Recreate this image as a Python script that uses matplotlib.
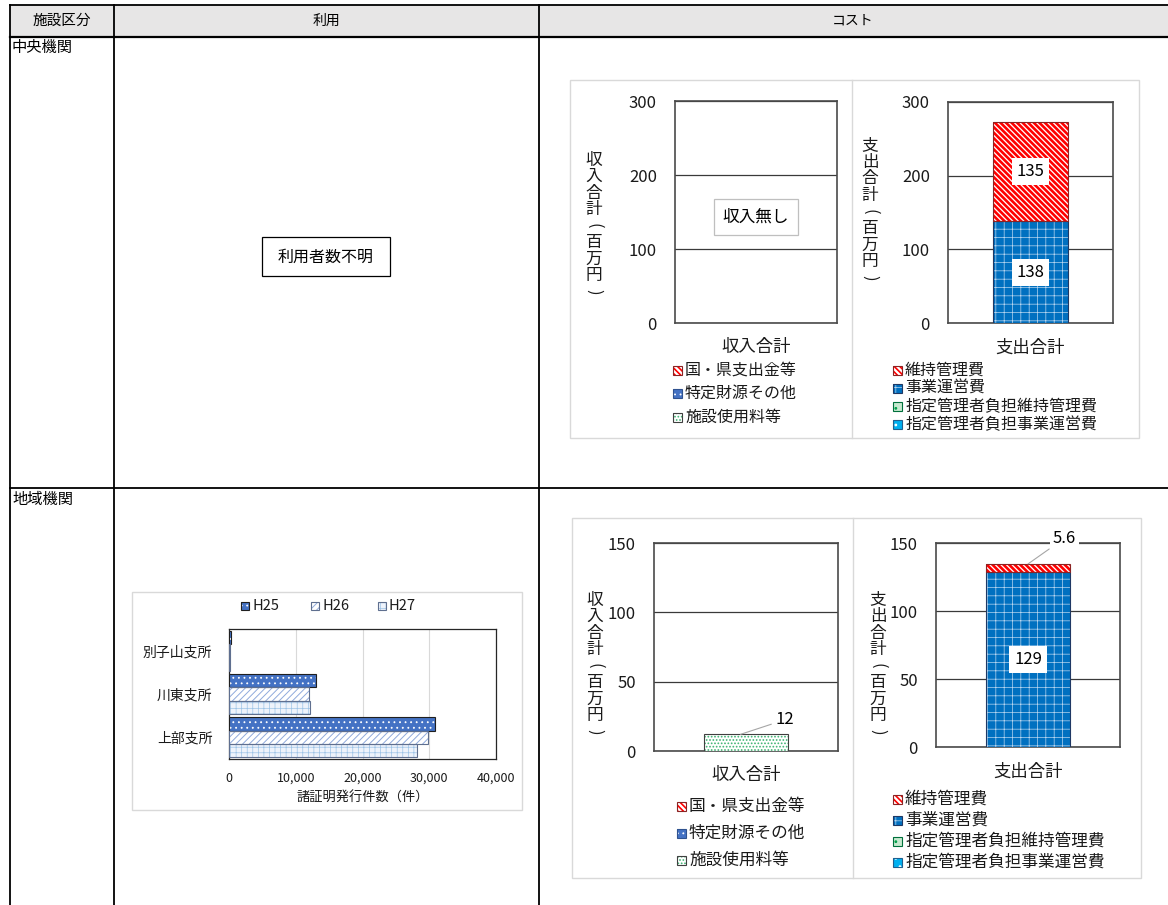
import matplotlib
matplotlib.use('Agg')
import matplotlib.pyplot as plt
from matplotlib.patches import Rectangle

plt.rcParams['font.family'] = ['Noto Sans CJK JP', 'DejaVu Sans']
plt.rcParams['hatch.linewidth'] = 0.8

# ---------------- data ----------------
header_labels = ['施設区分', '利用', 'コスト']
row_labels = ['中央機関', '地域機関']
no_usage_text = '利用者数不明'
no_income_text = '収入無し'

income_labels = ['国・県支出金等', '特定財源その他', '施設使用料等']
expense_labels = ['維持管理費', '事業運営費', '指定管理者負担維持管理費', '指定管理者負担事業運営費']

central_income = [0, 0, 0]
central_expense = [135, 138, 0, 0]
regional_income = [0, 0, 12]
regional_expense = [5.6, 129, 0, 0]

income_cat = '収入合計'
expense_cat = '支出合計'
income_ylabel = '収入合計(百万円)'
expense_ylabel = '支出合計(百万円)'

branches = ['上部支所', '川東支所', '別子山支所']
years = ['H25', 'H26', 'H27']
h25 = [30900, 13100, 250]
h26 = [29800, 12000, 220]
h27 = [28200, 12100, 200]
usage_xlabel = '諸証明発行件数（件）'
usage_ticks = [0, 10000, 20000, 30000, 40000]

# ---------------- styles ----------------
RED = dict(face='white', hatch='\\\\\\\\\\\\', hc='#ff0000', edge='#8b2323', hlw=1.9)
STY = {
    '国・県支出金等': RED,
    '維持管理費': RED,
    '特定財源その他': dict(face='#4472c4', hatch='...', hc='white', edge='#2f528f', hlw=0.6),
    '事業運営費': dict(face='#0070c0', hatch='++', hc='#b9d6f0', edge='#1f3864', hlw=0.5),
    '施設使用料等': dict(face='#ffffff', hatch='.....', hc='#3cb371', edge='#404040', hlw=0.8),
    '指定管理者負担維持管理費': dict(face='#c6e9cf', hatch='..', hc='#00a04a', edge='#00703c', hlw=0.8),
    '指定管理者負担事業運営費': dict(face='#00b0f0', hatch='..', hc='white', edge='#1f5f8f', hlw=0.8),
    'H25': dict(face='#4472c4', hatch='...', hc='white', edge='#1f1f1f', hlw=0.6),
    'H26': dict(face='white', hatch='/////', hc='#8faadc', edge='#5f6f8f', hlw=0.7),
    'H27': dict(face='#eef3fb', hatch='+++', hc='#9dc3e6', edge='#5f6f8f', hlw=0.5),
}

W, H = 1168, 905
fig = plt.figure(figsize=(W / 100, H / 100), dpi=100)
fig.patch.set_facecolor('white')

ax0 = fig.add_axes([0, 0, 1, 1])
ax0.set_xlim(0, W)
ax0.set_ylim(H, 0)
ax0.axis('off')


def fig_axes(x0, y0, x1, y1):
    return fig.add_axes([x0 / W, 1 - y1 / H, (x1 - x0) / W, (y1 - y0) / H])


def set_hlw(patches, lw):
    for p in patches:
        if hasattr(p, 'set_hatch_linewidth'):
            p.set_hatch_linewidth(lw)


def styled_bar(ax, pos, val, base, size, sty, horizontal=False):
    with plt.rc_context({'hatch.linewidth': sty['hlw']}):
        if horizontal:
            b = ax.barh(pos, val, height=size, left=base, color=sty['face'],
                        hatch=sty['hatch'], edgecolor=sty['hc'], linewidth=0, zorder=3)
        else:
            b = ax.bar(pos, val, width=size, bottom=base, color=sty['face'],
                       hatch=sty['hatch'], edgecolor=sty['hc'], linewidth=0, zorder=3)
    set_hlw(b, sty['hlw'])
    if horizontal:
        ax.barh(pos, val, height=size, left=base, fill=False,
                edgecolor=sty['edge'], linewidth=0.8, zorder=4)
    else:
        ax.bar(pos, val, width=size, bottom=base, fill=False,
               edgecolor=sty['edge'], linewidth=0.8, zorder=4)


def key(x, y, label, fs=10.5, size=9):
    sty = STY[label]
    with plt.rc_context({'hatch.linewidth': min(sty['hlw'], 1.2)}):
        r = Rectangle((x, y - size / 2), size, size, facecolor=sty['face'],
                      hatch=sty['hatch'], edgecolor=sty['hc'], linewidth=0)
    set_hlw([r], min(sty['hlw'], 1.2))
    ax0.add_patch(r)
    ax0.add_patch(Rectangle((x, y - size / 2), size, size, fill=False,
                            edgecolor=sty['edge'], linewidth=0.8))
    ax0.text(x + size + 3, y, label, fontsize=fs, va='center', ha='left', color='#1a1a1a')


def vlabel(x, yc, text, fs=12, step=16.5):
    n = len(text)
    y0 = yc - step * (n - 1) / 2
    for i, ch in enumerate(text):
        rot = 270 if ch in '()' else 0
        ax0.text(x, y0 + i * step, ch, fontsize=fs, ha='center', va='center',
                 rotation=rot, rotation_mode='anchor', color='#1a1a1a')


# ---------------- table ----------------
ax0.add_patch(Rectangle((10, 5), W - 10, 32, facecolor='#e7e6e6', edgecolor='none'))
for yy, lw in [(5, 1.3), (37, 1.6), (488, 1.3)]:
    ax0.plot([10, W], [yy, yy], color='black', lw=lw)
for xx in [10, 114, 539]:
    ax0.plot([xx, xx], [5, H], color='black', lw=1.3)
ax0.text(62, 21, header_labels[0], fontsize=10.5, ha='center', va='center')
ax0.text(326, 21, header_labels[1], fontsize=10, ha='center', va='center')
ax0.text(853, 21, header_labels[2], fontsize=10, ha='center', va='center')
ax0.text(12, 47, row_labels[0], fontsize=11, ha='left', va='center')
ax0.text(12, 499, row_labels[1], fontsize=11, ha='left', va='center')

# "利用者数不明" box
ax0.add_patch(Rectangle((262, 237), 128, 39, facecolor='white', edgecolor='black', lw=0.9))
ax0.text(326, 257, no_usage_text, fontsize=11.5, ha='center', va='center')

# chart containers
for (x0, y0, x1, y1, xd) in [(570, 80, 1139, 438, 852), (572, 518, 1141, 878, 853)]:
    ax0.add_patch(Rectangle((x0, y0), x1 - x0, y1 - y0, fill=False, edgecolor='#d9d9d9', lw=1))
    ax0.plot([xd, xd], [y0, y1], color='#d9d9d9', lw=1)
ax0.add_patch(Rectangle((132, 592), 390, 218, fill=False, edgecolor='#d9d9d9', lw=1))


# ---------------- cost charts ----------------
def cost_chart(rect, labels, values, order, ymax, step, cat, width):
    ax = fig_axes(*rect)
    base = 0
    for idx in order:
        v = values[idx]
        if v > 0:
            styled_bar(ax, 0, v, base, width, STY[labels[idx]])
        base += v
    ax.set_xlim(-0.5, 0.5)
    ax.set_ylim(0, ymax)
    ax.set_yticks(range(0, ymax + 1, step))
    ax.set_xticks([0])
    ax.set_xticklabels([cat])
    ax.tick_params(axis='x', length=0, pad=11, labelsize=12.5, labelcolor='#1a1a1a')
    ax.tick_params(axis='y', length=0, pad=13, labelsize=12, labelcolor='#1a1a1a')
    ax.grid(axis='y', color='#3a3a3a', lw=0.9, zorder=1)
    ax.set_axisbelow(True)
    for s in ax.spines.values():
        s.set_color('#4a4a4a')
        s.set_linewidth(1.2)
    return ax


def center_labels(ax, values, order):
    base = 0
    for idx in order:
        v = values[idx]
        if v > 0:
            ax.text(0, base + v / 2, f'{v:g}', fontsize=12, ha='center', va='center', zorder=6,
                    bbox=dict(boxstyle='square,pad=0.3', fc='white', ec='none'))
        base += v


inc_order = [2, 1, 0]
exp_order = [3, 2, 1, 0]

# row 1
a1 = cost_chart((675, 101, 837, 323), income_labels, central_income, inc_order, 300, 100, income_cat, 0.45)
a1.text(0.5, 0.477, no_income_text, transform=a1.transAxes, fontsize=12, ha='center', va='center',
        zorder=6, bbox=dict(boxstyle='square,pad=0.55', fc='white', ec='#bfbfbf', lw=0.9))
a2 = cost_chart((948, 102, 1113, 323), expense_labels, central_expense, exp_order, 300, 100, expense_cat, 0.45)
center_labels(a2, central_expense, exp_order)

# row 2
a3 = cost_chart((654, 543, 838, 751), income_labels, regional_income, inc_order, 150, 50, income_cat, 0.456)
a3.annotate(f'{regional_income[2]:g}', xy=(-0.03, regional_income[2]), xytext=(0.16, 22.5),
            fontsize=12, ha='left', va='center', zorder=6,
            arrowprops=dict(arrowstyle='-', color='#a6a6a6', lw=0.8, shrinkA=1, shrinkB=0))
a4 = cost_chart((936, 543, 1120, 747), expense_labels, regional_expense, exp_order, 150, 50, expense_cat, 0.46)
a4.annotate(f'{regional_expense[0]:g}', xy=(0.0, regional_expense[0] + regional_expense[1]),
            xytext=(0.135, 153.5), fontsize=12, ha='left', va='center', zorder=6, annotation_clip=False,
            bbox=dict(boxstyle='square,pad=0.15', fc='white', ec='none'),
            arrowprops=dict(arrowstyle='-', color='#a6a6a6', lw=0.8, shrinkA=1, shrinkB=0))
center_labels(a4, [0, regional_expense[1], 0, 0], exp_order)

# y labels
vlabel(594, 226, income_ylabel)
vlabel(870, 212, expense_ylabel)
vlabel(595, 666, income_ylabel)
vlabel(878, 666, expense_ylabel)

# legends
for i, lab in enumerate(income_labels):
    key(673, 370 + i * 23.5, lab, fs=11.5)
for i, lab in enumerate(expense_labels):
    key(893, 370 + i * 18.3, lab, fs=11.5)
for i, lab in enumerate(income_labels):
    key(677, 806 + i * 27, lab, fs=12)
for i, lab in enumerate(expense_labels):
    key(893, 799 + i * 21, lab, fs=12)

# ---------------- usage bar chart ----------------
ab = fig_axes(229, 629, 496, 759)
bh = 0.31
for series, off, yr in [(h25, bh, 'H25'), (h26, 0, 'H26'), (h27, -bh, 'H27')]:
    for i, v in enumerate(series):
        styled_bar(ab, i + off, v, 0, bh, STY[yr], horizontal=True)
ab.set_ylim(-0.5, 2.5)
ab.set_xlim(0, 40000)
ab.set_xticks(usage_ticks)
ab.set_xticklabels([f'{t:,}' for t in usage_ticks])
ab.set_yticks(range(len(branches)))
ab.set_yticklabels(branches)
ab.tick_params(axis='x', length=0, pad=9, labelsize=9, labelcolor='#1a1a1a')
ab.tick_params(axis='y', length=0, pad=12, labelsize=10, labelcolor='#1a1a1a')
ab.grid(axis='x', color='#d9d9d9', lw=0.8, zorder=1)
ab.set_axisbelow(True)
for s in ab.spines.values():
    s.set_color('#262626')
    s.set_linewidth(0.9)
ab.set_xlabel(usage_xlabel, fontsize=9.5, labelpad=5, color='#1a1a1a')

for x, yr in zip([241, 311, 378], years):
    key(x, 606, yr, fs=10.5, size=8)

fig.savefig('out.png', dpi=100)
